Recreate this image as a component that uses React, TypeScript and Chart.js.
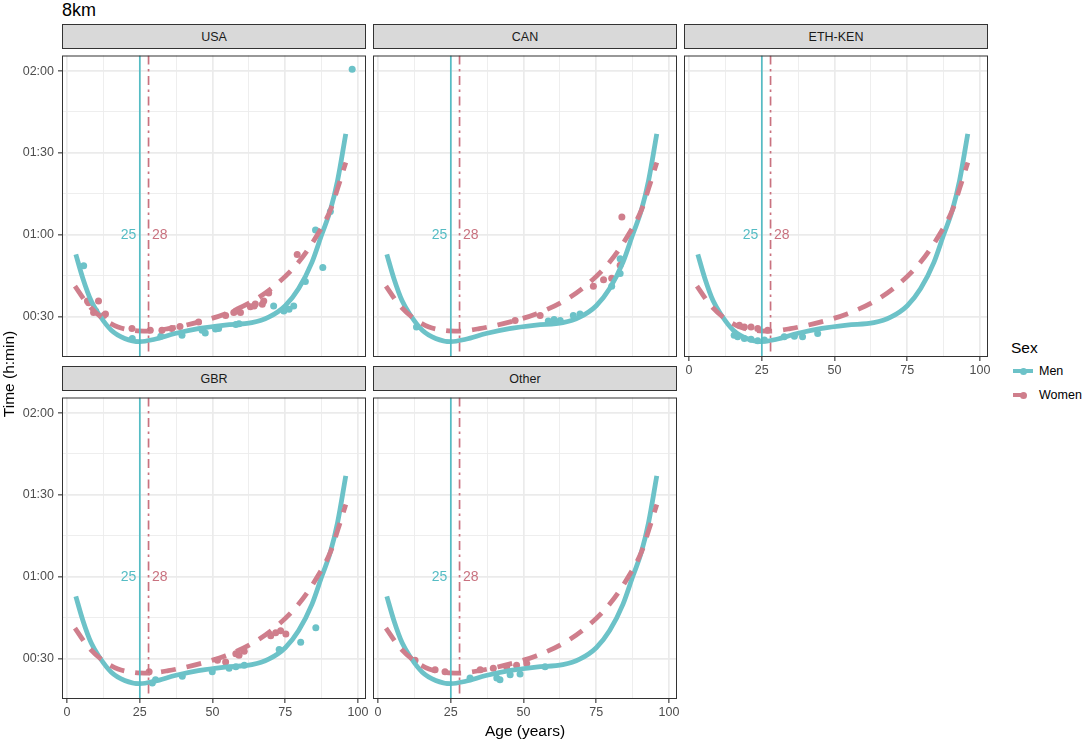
import React, { useEffect, useRef } from "react";
import { Chart, registerables } from "chart.js";

Chart.register(...registerables);

const FONT = "'Liberation Sans', Arial, Helvetica, sans-serif";

// ---------- text ----------
const TITLE = "8km";
const X_TITLE = "Age (years)";
const Y_TITLE = "Time (h:min)";
const LEGEND_TITLE = "Sex";
const SEX_LABELS = ["Men", "Women"];
const PANEL_NAMES = ["USA", "CAN", "ETH-KEN", "GBR", "Other"];

// ---------- axes ----------
const X_MIN = -1.75;
const X_MAX = 102.75;
const Y_MIN = 15.2;
const Y_MAX = 125.7;
const X_MAJOR = [0, 25, 50, 75, 100];
const X_MINOR = [12.5, 37.5, 62.5, 87.5];
const Y_MAJOR = [30, 60, 90, 120]; // minutes
const Y_MINOR = [45, 75, 105];

// ---------- peak ages ----------
const PEAK_AGE_MEN = 25;
const PEAK_AGE_WOMEN = 28;
const PEAK_LABEL_TIME = 60;

// ---------- fitted curves (minutes) ----------
const MEN_CURVE_AGE = [3, 5.4, 8.3, 11.2, 15.2, 19.8, 25, 30.1, 37.1, 45.1, 54.3, 63.5, 69.3, 75, 79.6, 84.2, 87.5, 90.5, 93, 95.8];
const MEN_CURVE_TIME = [52.8, 44.1, 35.7, 30.4, 25.0, 22.0, 20.8, 21.7, 23.8, 25.6, 26.9, 27.8, 29.8, 34, 40.3, 50, 60, 69, 80, 97];
const WOMEN_CURVE_AGE = [2.7, 7.1, 11.7, 17.5, 23.2, 27.8, 34.8, 45.1, 54.3, 63.5, 71.6, 79.6, 86.5, 90.5, 93, 95.8];
const WOMEN_CURVE_TIME = [41.2, 34.5, 29.8, 26.2, 24.9, 24.7, 25.6, 28.0, 31.0, 35.5, 41.5, 50, 60.8, 69, 77, 86.5];

// ---------- observed points per panel ----------
const USA_MEN_AGE = [5.7, 22.4, 32.2, 39.5, 46.4, 47.5, 51.0, 52.1, 58.0, 59.1, 71.0, 74.5, 76.3, 77.9, 81.9, 85.4, 87.9, 90.5, 98.0];
const USA_MEN_TIME = [48.6, 22.0, 22.8, 23.2, 25.0, 24.0, 25.5, 25.6, 27.1, 27.4, 33.9, 32.1, 32.7, 33.9, 42.9, 61.7, 48.0, 68.5, 120.7];
const USA_WOMEN_AGE = [7.0, 7.4, 9.1, 9.8, 10.8, 12.6, 13.2, 22.3, 28.6, 32.6, 36.0, 38.8, 45.2, 54.5, 57.3, 58.0, 59.6, 63.0, 64.3, 64.7, 67.1, 67.6, 69.3, 79.1];
const USA_WOMEN_TIME = [35.7, 35.1, 31.5, 32.1, 35.7, 30.4, 31.0, 25.6, 25.0, 25.0, 25.6, 26.4, 28.0, 30.4, 31.5, 32.1, 31.5, 33.6, 33.9, 34.6, 34.5, 35.7, 38.7, 52.8];

const CAN_MEN_AGE = [13.2, 58.5, 60.5, 62.6, 67.1, 69.4, 80.3, 83.2, 83.2];
const CAN_MEN_TIME = [26.2, 28.4, 28.9, 28.6, 30.4, 31.0, 41.1, 45.8, 51.2];
const CAN_WOMEN_AGE = [47.1, 55.7, 74.0, 77.5, 80.3, 83.2, 83.8];
const CAN_WOMEN_TIME = [28.6, 30.4, 41.1, 43.5, 44.1, 48.8, 66.5];

const ETH_MEN_AGE = [15.5, 16.7, 19.0, 21.3, 23.6, 25.9, 32.7, 36.2, 39.0, 44.2];
const ETH_MEN_TIME = [23.2, 22.6, 22.0, 21.7, 21.2, 21.4, 22.6, 22.8, 22.6, 23.8];
const ETH_WOMEN_AGE = [17.3, 19.0, 21.3, 23.6, 27.0];
const ETH_WOMEN_TIME = [26.8, 26.2, 26.2, 25.6, 25.0];

const GBR_MEN_AGE = [29.3, 30.4, 39.6, 49.9, 55.7, 58.0, 60.9, 72.9, 80.3, 85.5];
const GBR_MEN_TIME = [21.1, 22.3, 23.5, 25.2, 26.5, 27.0, 27.6, 33.3, 36.0, 41.3];
const GBR_WOMEN_AGE = [28.2, 51.7, 54.5, 58.0, 59.1, 60.9, 70.0, 71.7, 73.4, 75.2];
const GBR_WOMEN_TIME = [25.2, 29.4, 28.8, 31.8, 31.2, 32.7, 38.4, 39.5, 40.2, 39.0];

const OTHER_MEN_AGE = [31.6, 40.8, 41.9, 45.4, 48.8, 57.4];
const OTHER_MEN_TIME = [22.9, 22.9, 22.3, 24.1, 24.4, 27.0];
const OTHER_WOMEN_AGE = [12.7, 19.6, 23.0, 35.1, 39.6, 44.2, 47.6, 51.1];
const OTHER_WOMEN_TIME = [29.4, 25.9, 25.2, 25.9, 26.5, 27.0, 27.6, 28.2];

// ---------- styles ----------
const MEN_COLOR = "#6CC2C8";
const WOMEN_COLOR = "#CF7E8C";
const MEN_VLINE = "#55BCC4";
const WOMEN_VLINE = "#C9727F";
const GRID = "#EBEBEB";
const DARK = "#333333";
const TICK_TEXT = "#4D4D4D";

// layout
const COL_LEFT = [62, 373, 684];
const STRIP_TOP = [24, 366];
const PLOT_TOP = [48, 390];
const PLOT_W = 304;
const PLOT_H = 309;
const L = 56;
const T = 4;
const R = 8;
const B = 26;

const toXY = (xs: number[], ys: number[]) => xs.map((x, i) => ({ x, y: ys[i] }));
const pad2 = (n: number) => String(Math.round(n)).padStart(2, "0");
const fmtTime = (m: number) => `${pad2(Math.floor(m / 60))}:${pad2(m % 60)}`;

type PanelSpec = {
  name: string;
  col: number;
  row: number;
  showX: boolean;
  showY: boolean;
  menAge: number[];
  menTime: number[];
  womenAge: number[];
  womenTime: number[];
};

const PANELS: PanelSpec[] = [
  { name: PANEL_NAMES[0], col: 0, row: 0, showX: false, showY: true, menAge: USA_MEN_AGE, menTime: USA_MEN_TIME, womenAge: USA_WOMEN_AGE, womenTime: USA_WOMEN_TIME },
  { name: PANEL_NAMES[1], col: 1, row: 0, showX: false, showY: false, menAge: CAN_MEN_AGE, menTime: CAN_MEN_TIME, womenAge: CAN_WOMEN_AGE, womenTime: CAN_WOMEN_TIME },
  { name: PANEL_NAMES[2], col: 2, row: 0, showX: true, showY: false, menAge: ETH_MEN_AGE, menTime: ETH_MEN_TIME, womenAge: ETH_WOMEN_AGE, womenTime: ETH_WOMEN_TIME },
  { name: PANEL_NAMES[3], col: 0, row: 1, showX: true, showY: true, menAge: GBR_MEN_AGE, menTime: GBR_MEN_TIME, womenAge: GBR_WOMEN_AGE, womenTime: GBR_WOMEN_TIME },
  { name: PANEL_NAMES[4], col: 1, row: 1, showX: true, showY: false, menAge: OTHER_MEN_AGE, menTime: OTHER_MEN_TIME, womenAge: OTHER_WOMEN_AGE, womenTime: OTHER_WOMEN_TIME },
];

const decorPlugin = {
  id: "panelDecor",
  afterDatasetsDraw(chart: any) {
    const { ctx, chartArea: a, scales } = chart;
    const x = scales.x;
    const y = scales.y;
    ctx.save();
    ctx.beginPath();
    ctx.rect(a.left, a.top, a.right - a.left, a.bottom - a.top);
    ctx.clip();
    const xm = x.getPixelForValue(PEAK_AGE_MEN);
    const xw = x.getPixelForValue(PEAK_AGE_WOMEN);
    ctx.lineWidth = 1.7;
    ctx.strokeStyle = MEN_VLINE;
    ctx.setLineDash([]);
    ctx.beginPath();
    ctx.moveTo(xm, a.top);
    ctx.lineTo(xm, a.bottom);
    ctx.stroke();
    ctx.strokeStyle = WOMEN_VLINE;
    ctx.setLineDash([9, 4.5, 2.5, 4.5]);
    ctx.beginPath();
    ctx.moveTo(xw, a.top);
    ctx.lineTo(xw, a.bottom);
    ctx.stroke();
    ctx.setLineDash([]);
    const ly = y.getPixelForValue(PEAK_LABEL_TIME);
    ctx.font = `14px ${FONT}`;
    ctx.textBaseline = "middle";
    ctx.fillStyle = MEN_VLINE;
    ctx.textAlign = "right";
    ctx.fillText(String(PEAK_AGE_MEN), xm - 3.5, ly);
    ctx.fillStyle = WOMEN_VLINE;
    ctx.textAlign = "left";
    ctx.fillText(String(PEAK_AGE_WOMEN), xw + 3.5, ly);
    ctx.restore();
    ctx.save();
    ctx.strokeStyle = DARK;
    ctx.lineWidth = 1;
    ctx.strokeRect(a.left + 0.5, a.top + 0.5, a.right - a.left - 1, a.bottom - a.top - 1);
    ctx.restore();
  },
};

function Panel({ spec }: { spec: PanelSpec }) {
  const ref = useRef<HTMLCanvasElement | null>(null);
  useEffect(() => {
    if (!ref.current) return;
    const { showX, showY } = spec;
    const xTicks = [...X_MAJOR, ...X_MINOR].sort((p, q) => p - q);
    const yTicks = [...Y_MAJOR, ...Y_MINOR].sort((p, q) => p - q);
    const chart = new Chart(ref.current, {
      type: "scatter",
      data: {
        datasets: [
          {
            type: "line",
            label: SEX_LABELS[1],
            data: toXY(WOMEN_CURVE_AGE, WOMEN_CURVE_TIME),
            borderColor: WOMEN_COLOR,
            borderWidth: 4.8,
            borderDash: [15, 11],
            pointRadius: 0,
            fill: false,
            cubicInterpolationMode: "monotone",
            order: 0,
          } as any,
          {
            type: "line",
            label: SEX_LABELS[0],
            data: toXY(MEN_CURVE_AGE, MEN_CURVE_TIME),
            borderColor: MEN_COLOR,
            borderWidth: 4.8,
            pointRadius: 0,
            fill: false,
            cubicInterpolationMode: "monotone",
            order: 1,
          } as any,
          {
            type: "scatter",
            label: SEX_LABELS[1] + " obs",
            data: toXY(spec.womenAge, spec.womenTime),
            backgroundColor: WOMEN_COLOR,
            borderWidth: 0,
            pointRadius: 3.5,
            order: 2,
          },
          {
            type: "scatter",
            label: SEX_LABELS[0] + " obs",
            data: toXY(spec.menAge, spec.menTime),
            backgroundColor: MEN_COLOR,
            borderWidth: 0,
            pointRadius: 3.5,
            order: 3,
          },
        ],
      },
      options: {
        responsive: false,
        maintainAspectRatio: false,
        animation: false,
        events: [],
        layout: { padding: { left: 0, top: T, right: R, bottom: 0 } },
        plugins: { legend: { display: false }, tooltip: { enabled: false }, title: { display: false } },
        scales: {
          x: {
            type: "linear",
            min: X_MIN,
            max: X_MAX,
            afterBuildTicks: (s: any) => {
              s.ticks = xTicks.map((v) => ({ value: v }));
            },
            afterFit: (s: any) => {
              s.height = B;
            },
            ticks: {
              autoSkip: false,
              maxRotation: 0,
              minRotation: 0,
              padding: 2,
              color: TICK_TEXT,
              font: { family: FONT, size: 12.5 },
              callback: (v: any) => (showX && X_MAJOR.includes(Number(v)) ? String(v) : ""),
            },
            grid: {
              color: GRID,
              lineWidth: (c: any) => (X_MAJOR.includes(c.tick?.value) ? 1.7 : 0.85),
              tickColor: (c: any) => (showX && X_MAJOR.includes(c.tick?.value) ? DARK : "rgba(0,0,0,0)"),
              tickLength: 4,
              tickWidth: 1.1,
              drawTicks: true,
            },
            border: { display: false },
          } as any,
          y: {
            type: "linear",
            min: Y_MIN,
            max: Y_MAX,
            afterBuildTicks: (s: any) => {
              s.ticks = yTicks.map((v) => ({ value: v }));
            },
            afterFit: (s: any) => {
              s.width = L;
            },
            ticks: {
              autoSkip: false,
              padding: 4,
              color: TICK_TEXT,
              font: { family: FONT, size: 12.5 },
              callback: (v: any) => (showY && Y_MAJOR.includes(Number(v)) ? fmtTime(Number(v)) : ""),
            },
            grid: {
              color: GRID,
              lineWidth: (c: any) => (Y_MAJOR.includes(c.tick?.value) ? 1.7 : 0.85),
              tickColor: (c: any) => (showY && Y_MAJOR.includes(c.tick?.value) ? DARK : "rgba(0,0,0,0)"),
              tickLength: 4,
              tickWidth: 1.1,
              drawTicks: true,
            },
            border: { display: false },
          } as any,
        },
      },
      plugins: [decorPlugin],
    });
    return () => chart.destroy();
  }, [spec]);

  const cw = L + PLOT_W + R;
  const ch = T + PLOT_H + B;
  const left = COL_LEFT[spec.col];
  return (
    <>
      <div
        style={{
          position: "absolute",
          left,
          top: STRIP_TOP[spec.row],
          width: PLOT_W,
          height: PLOT_TOP[spec.row] - STRIP_TOP[spec.row] + 1,
          boxSizing: "border-box",
          border: `1px solid ${DARK}`,
          background: "#D9D9D9",
          display: "flex",
          alignItems: "center",
          justifyContent: "center",
          fontFamily: FONT,
          fontSize: 12.5,
          color: "#1A1A1A",
        }}
      >
        {spec.name}
      </div>
      <canvas
        ref={ref}
        width={cw}
        height={ch}
        style={{ position: "absolute", left: left - L, top: PLOT_TOP[spec.row] - T, width: cw, height: ch }}
      />
    </>
  );
}

export default function App() {
  return (
    <div
      style={{
        position: "absolute",
        left: 0,
        top: 0,
        width: 1083,
        height: 740,
        background: "#FFFFFF",
        overflow: "hidden",
        fontFamily: FONT,
      }}
    >
      <div style={{ position: "absolute", left: 62, top: 0, fontSize: 18, lineHeight: "20px", color: "#000" }}>{TITLE}</div>
      {PANELS.map((p) => (
        <Panel key={p.name} spec={p} />
      ))}
      <div
        style={{
          position: "absolute",
          left: 325,
          width: 400,
          top: 722,
          textAlign: "center",
          fontSize: 15.5,
          lineHeight: "18px",
          color: "#000",
        }}
      >
        {X_TITLE}
      </div>
      <div
        style={{
          position: "absolute",
          left: 9 - 100,
          top: 374 - 9,
          width: 200,
          height: 18,
          lineHeight: "18px",
          textAlign: "center",
          fontSize: 15.5,
          color: "#000",
          transform: "rotate(-90deg)",
        }}
      >
        {Y_TITLE}
      </div>
      {/* legend */}
      <div style={{ position: "absolute", left: 1011, top: 339, fontSize: 15.5, lineHeight: "18px", color: "#000" }}>
        {LEGEND_TITLE}
      </div>
      <div style={{ position: "absolute", left: 1013, top: 371 - 2.3, width: 20, height: 4.6, background: MEN_COLOR }} />
      <div style={{ position: "absolute", left: 1023 - 3.5, top: 371 - 3.5, width: 7, height: 7, borderRadius: "50%", background: MEN_COLOR }} />
      <div style={{ position: "absolute", left: 1039, top: 371 - 8, fontSize: 12.5, lineHeight: "16px", color: "#000" }}>
        {SEX_LABELS[0]}
      </div>
      <div style={{ position: "absolute", left: 1013, top: 395 - 2.3, width: 11, height: 4.6, background: WOMEN_COLOR }} />
      <div style={{ position: "absolute", left: 1023 - 3.5, top: 395 - 3.5, width: 7, height: 7, borderRadius: "50%", background: WOMEN_COLOR }} />
      <div style={{ position: "absolute", left: 1039, top: 395 - 8, fontSize: 12.5, lineHeight: "16px", color: "#000" }}>
        {SEX_LABELS[1]}
      </div>
    </div>
  );
}
